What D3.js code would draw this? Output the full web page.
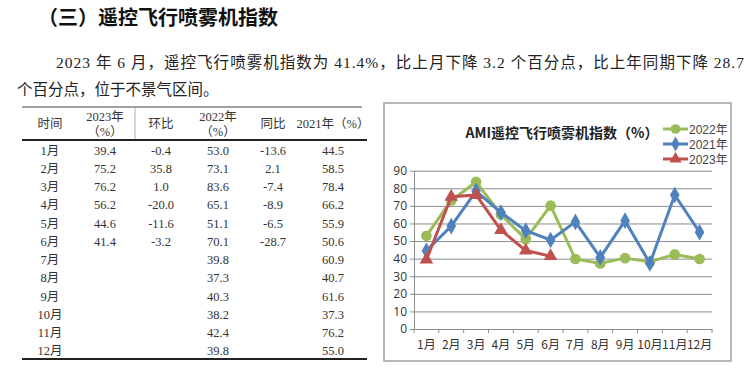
<!DOCTYPE html>
<html><head><meta charset="utf-8">
<script src="https://cdn.jsdelivr.net/npm/d3@7"></script>
<style>html,body{margin:0;padding:0;background:#fff;}svg{display:block;}</style>
</head><body><svg id="c" width="750" height="375"></svg>
<script>
const months = ["1月","2月","3月","4月","5月","6月","7月","8月","9月","10月","11月","12月"];
const v2023 = [39.4, 75.2, 76.2, 56.2, 44.6, 41.4];
const mom2023 = ["-0.4","35.8","1.0","-20.0","-11.6","-3.2"];
const v2022 = [53.0, 73.1, 83.6, 65.1, 51.1, 70.1, 39.8, 37.3, 40.3, 38.2, 42.4, 39.8];
const yoy2023 = ["-13.6","2.1","-7.4","-8.9","-6.5","-28.7"];
const v2021 = [44.5, 58.5, 78.4, 66.2, 55.9, 50.6, 60.9, 40.7, 61.6, 37.3, 76.2, 55.0];
const yTicks = [0,10,20,30,40,50,60,70,80,90];
const heading = "（三）遥控飞行喷雾机指数";
const para1 = "2023 年 6 月，遥控飞行喷雾机指数为 41.4%，比上月下降 3.2 个百分点，比上年同期下降 28.7";
const para2 = "个百分点，位于不景气区间。";
const chartTitle = "AMI遥控飞行喷雾机指数（%）";

const svg = d3.select("#c");
const serif = "'Liberation Serif','Noto Sans CJK SC',serif";
const sans = "'Liberation Sans','Noto Sans CJK SC',sans-serif";

// heading & paragraph
svg.append("text").attr("x",38).attr("y",25).attr("font-size",20).attr("font-weight","bold")
  .attr("font-family","'Noto Sans CJK SC',sans-serif").attr("fill","#111").text(heading);
svg.append("text").attr("x",56).attr("y",68).attr("font-size",15.5).attr("font-family",serif)
  .attr("fill","#222").attr("textLength",688).attr("lengthAdjust","spacing").text(para1);
svg.append("text").attr("x",17).attr("y",95).attr("font-size",15.5).attr("font-family",serif)
  .attr("fill","#222").text(para2);

// table
const tcols = [50,105,161,218,273,333];
const t = svg.append("g").attr("font-family",serif).attr("font-size",12.5).attr("fill","#333");
t.append("line").attr("x1",22).attr("x2",362).attr("y1",107).attr("y2",107).attr("stroke","#444").attr("stroke-width",1.2);
t.append("line").attr("x1",135).attr("x2",135).attr("y1",107).attr("y2",139).attr("stroke","#999").attr("stroke-width",0.8);
t.append("line").attr("x1",22).attr("x2",367).attr("y1",140).attr("y2",140).attr("stroke","#222").attr("stroke-width",2);
t.append("line").attr("x1",22).attr("x2",367).attr("y1",359).attr("y2",359).attr("stroke","#222").attr("stroke-width",2.2);
const hdr = [["时间"],["2023年","（%）"],["环比"],["2022年","（%）"],["同比"],["2021年（%）"]];
hdr.forEach((h,i)=>{
  if(h.length===1){
    t.append("text").attr("x",tcols[i]).attr("y",128).attr("text-anchor","middle").text(h[0]);
  } else {
    t.append("text").attr("x",tcols[i]).attr("y",121).attr("text-anchor","middle").text(h[0]);
    t.append("text").attr("x",tcols[i]).attr("y",136).attr("text-anchor","middle").text(h[1]);
  }
});
const rowY = d3.scaleBand().domain(months).range([141,360]);
months.forEach((m,i)=>{
  const yy = rowY(m)+rowY.bandwidth()/2+4.5;
  const cells = [m, v2023[i]!==undefined?v2023[i].toFixed(1):"", mom2023[i]||"",
    v2022[i].toFixed(1), yoy2023[i]||"", v2021[i].toFixed(1)];
  cells.forEach((c,j)=>{
    if(c!=="") t.append("text").attr("x",tcols[j]).attr("y",yy).attr("text-anchor","middle").text(c);
  });
});

// chart box
svg.append("rect").attr("x",384).attr("y",103).attr("width",347).attr("height",258)
  .attr("fill","#fff").attr("stroke","#a6a6a6").attr("stroke-width",1.6);

const x = d3.scaleBand().domain(months).range([414,712]);
const y = d3.scaleLinear().domain([0,90]).range([329,170.7]);

// gridlines
const grid = svg.append("g").attr("transform","translate(414,0)")
  .call(d3.axisLeft(y).tickValues(yTicks.filter(d=>d>0)).tickSize(-298).tickFormat(""));
grid.select(".domain").remove();
grid.selectAll("line").attr("stroke","#8c8c8c").attr("stroke-width",1);

// y axis
const ya = svg.append("g").attr("transform","translate(414,0)")
  .call(d3.axisLeft(y).tickValues(yTicks).tickSize(4).tickSizeOuter(0).tickPadding(3));
ya.select(".domain").attr("stroke","#8c8c8c");
ya.selectAll("line").attr("stroke","#8c8c8c");
ya.selectAll("text").attr("font-family","'Open Sans','Liberation Sans',sans-serif").attr("font-size",12).attr("fill","#333");

// x axis
const xa = svg.append("g").attr("transform","translate(0,329)")
  .call(d3.axisBottom(x).tickSize(0).tickPadding(11));
xa.select(".domain").attr("stroke","#8c8c8c");
xa.selectAll("text").attr("font-family","'Noto Sans CJK SC',sans-serif").attr("font-size",12).attr("fill","#333");
svg.append("g").selectAll("line").data(months.concat(["end"])).join("line")
  .attr("x1",d=>d==="end"?x.range()[1]:x(d)).attr("x2",d=>d==="end"?x.range()[1]:x(d))
  .attr("y1",329).attr("y2",333).attr("stroke","#8c8c8c");

// title
svg.append("text").attr("x",562).attr("y",138).attr("text-anchor","middle").attr("font-size",14)
  .attr("font-weight","bold").attr("font-family","'Noto Sans CJK SC',sans-serif").attr("fill","#222").text(chartTitle);

const cx = (d,i)=>x(months[i])+x.bandwidth()/2;
const series = [
  {name:"2022年", data:v2022, color:"#9bbb59", shape:d3.symbolCircle, size:90},
  {name:"2021年", data:v2021, color:"#4f81bd", shape:d3.symbolDiamond, size:80},
  {name:"2023年", data:v2023, color:"#c0504d", shape:d3.symbolTriangle, size:80}
];
const line = d3.line().x(cx).y(d=>y(d));
series.forEach((s,k)=>{
  const g = svg.append("g");
  g.append("path").attr("d",line(s.data)).attr("fill","none").attr("stroke",s.color).attr("stroke-width",3).attr("stroke-linejoin","round");
  g.selectAll("path.m").data(s.data).join("path").attr("class","m")
    .attr("transform",(d,i)=>`translate(${cx(d,i)},${y(d)})`)
    .attr("d",d3.symbol().type(s.shape).size(s.size)).attr("fill",s.color);
  // legend
  const ly = 129 + k*15;
  const lg = svg.append("g");
  lg.append("line").attr("x1",663).attr("x2",688).attr("y1",ly).attr("y2",ly).attr("stroke",s.color).attr("stroke-width",3);
  lg.append("path").attr("transform",`translate(675.5,${ly})`).attr("d",d3.symbol().type(s.shape).size(s.size*0.8)).attr("fill",s.color);
  lg.append("text").attr("x",689).attr("y",ly+4.5).attr("font-size",12).attr("font-family","'Liberation Sans','Noto Sans CJK SC',sans-serif").attr("fill","#444").text(s.name);
});
</script></body></html>
